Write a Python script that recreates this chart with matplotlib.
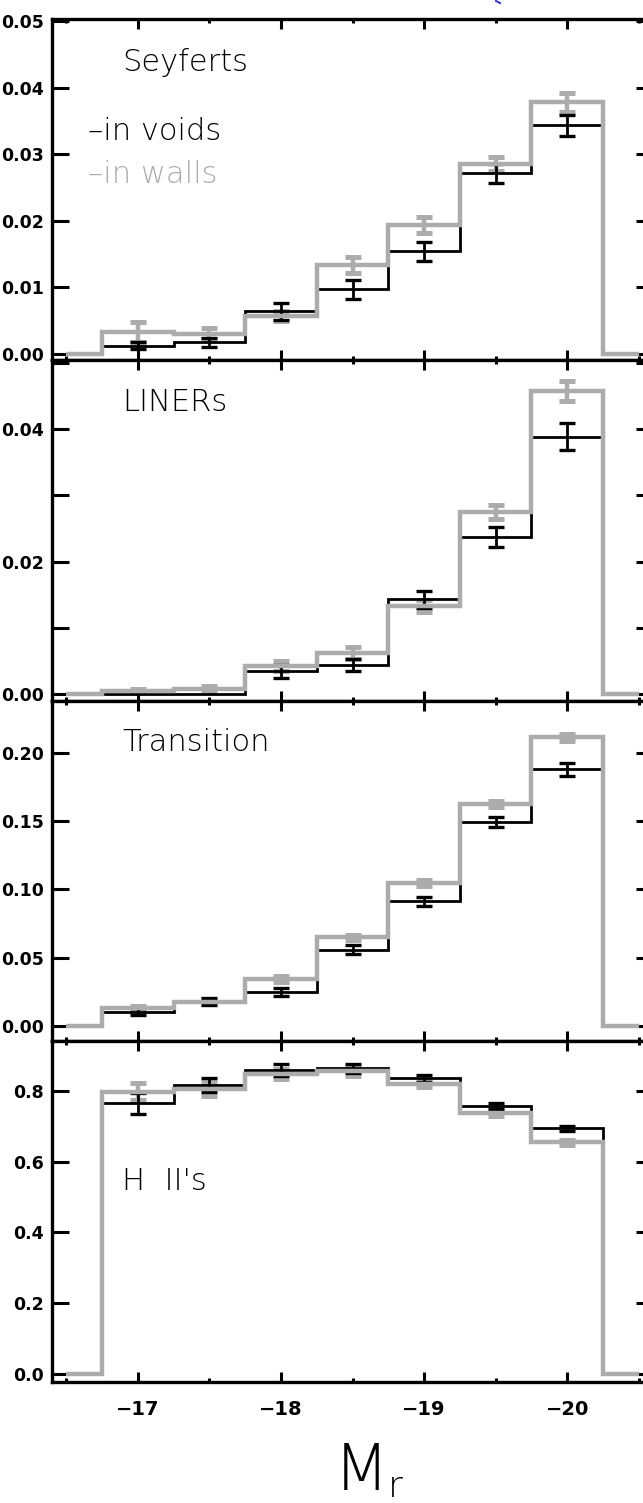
import numpy as np
import matplotlib.pyplot as plt
from matplotlib.ticker import MultipleLocator, FuncFormatter
from matplotlib.lines import Line2D

# bin centres in M_r (bin width 0.5)
mags = np.array([-17.0, -17.5, -18.0, -18.5, -19.0, -19.5, -20.0])

# Seyferts
sey_voids = [0.0012, 0.0017, 0.0064, 0.0097, 0.0154, 0.0271, 0.0343]
sey_voids_err = [0.0005, 0.0007, 0.0013, 0.0014, 0.0014, 0.0014, 0.0016]
sey_walls = [0.0032, 0.0030, 0.0057, 0.0134, 0.0194, 0.0285, 0.0378]
sey_walls_err = [0.0015, 0.0008, 0.0008, 0.0012, 0.0012, 0.0011, 0.0014]

# LINERs
lin_voids = [0.0, 0.0, 0.0034, 0.0044, 0.0143, 0.0237, 0.0389]
lin_voids_err = [0.0, 0.0, 0.0010, 0.0009, 0.0013, 0.0015, 0.0020]
lin_walls = [0.0005, 0.0008, 0.0042, 0.0062, 0.0133, 0.0275, 0.0458]
lin_walls_err = [0.0002, 0.0004, 0.0008, 0.0009, 0.0009, 0.0010, 0.0015]

# Transition
tra_voids = [0.0105, 0.0178, 0.0249, 0.0560, 0.0912, 0.1491, 0.1878]
tra_voids_err = [0.0025, 0.0025, 0.0028, 0.0030, 0.0033, 0.0037, 0.0047]
tra_walls = [0.0130, 0.0180, 0.0345, 0.0650, 0.1044, 0.1626, 0.2110]
tra_walls_err = [0.0015, 0.0015, 0.0020, 0.0020, 0.0022, 0.0022, 0.0025]

# H II's
hii_voids = [0.765, 0.817, 0.858, 0.864, 0.836, 0.758, 0.694]
hii_voids_err = [0.030, 0.020, 0.017, 0.013, 0.010, 0.008, 0.007]
hii_walls = [0.798, 0.806, 0.847, 0.855, 0.820, 0.736, 0.655]
hii_walls_err = [0.023, 0.020, 0.015, 0.012, 0.010, 0.008, 0.007]

panels = [
    ('Seyferts', sey_voids, sey_voids_err, sey_walls, sey_walls_err),
    ('LINERs', lin_voids, lin_voids_err, lin_walls, lin_walls_err),
    ('Transition', tra_voids, tra_voids_err, tra_walls, tra_walls_err),
    ("H  II's", hii_voids, hii_voids_err, hii_walls, hii_walls_err),
]
ylims = [(-0.0009, 0.0503), (-0.001, 0.0505), (-0.011, 0.238), (-0.0225, 0.94)]
ysteps = [0.01, 0.01, 0.05, 0.2]
label_every = [1, 2, 1, 1]
label_y = [0.871, 0.876, 0.878, 0.587]

GRAY = '#acacac'
LABEL_FONT = dict(family='DejaVu Sans', weight='light', fontsize=22)
YTICK_FONT = dict(family='DejaVu Sans', weight='bold', size=12.5)
XTICK_FONT = dict(family='DejaVu Sans', weight='bold', size=14)

# histogram edges with an empty bin on each side
half = 0.25
edges = np.concatenate(([mags[0] + 2 * half, mags[0] + half], mags - half, [mags[-1] - 2 * half]))


def padded(v):
    return np.concatenate(([0.0], v, [0.0]))


def fmt_factory(step, every, ndec):
    def f(val, pos):
        k = int(round(val / step))
        if k % every != 0:
            return ''
        return f'{val:.{ndec}f}'
    return f


fig = plt.figure(figsize=(6.43, 15.03), dpi=100)
W, H = 643.0, 1503.0
left_px, right_px = 52.0, 653.0
top_px, bot_px = 19.0, 1382.0
ph = (bot_px - top_px) / 4

axes = []
for i, (name, v, ve, w, we) in enumerate(panels):
    y0 = 1 - (top_px + (i + 1) * ph) / H
    ax = fig.add_axes([left_px / W, y0, (right_px - left_px) / W, ph / H])
    axes.append(ax)

    v = np.array(v); ve = np.array(ve); w = np.array(w); we = np.array(we)

    mw = we > 0
    ax.errorbar(mags[mw], w[mw], yerr=we[mw], fmt='none', ecolor=GRAY,
                elinewidth=3.2, capsize=5.5, capthick=3.6, zorder=2)
    ax.stairs(padded(v)[::-1], edges[::-1], color='black', lw=2.0, zorder=3)
    mv = ve > 0
    ax.errorbar(mags[mv], v[mv], yerr=ve[mv], fmt='none', ecolor='black',
                elinewidth=2.0, capsize=5.5, capthick=2.4, zorder=3)
    ax.stairs(padded(w)[::-1], edges[::-1], color=GRAY, lw=3.2, zorder=4)

    ax.set_xlim(-16.4, -20.6)
    ax.set_ylim(*ylims[i])
    ax.xaxis.set_major_locator(MultipleLocator(1.0))
    ax.xaxis.set_minor_locator(MultipleLocator(0.5))
    ax.yaxis.set_major_locator(MultipleLocator(ysteps[i]))
    ndec = 1 if ysteps[i] >= 0.1 else 2
    ax.yaxis.set_major_formatter(FuncFormatter(fmt_factory(ysteps[i], label_every[i], ndec)))

    ax.tick_params(axis='both', which='major', direction='in', top=True, right=True,
                   width=2.2, color='black')
    ax.tick_params(axis='y', which='major', length=12, pad=6)
    ax.tick_params(axis='x', which='major', length=7, pad=13)
    ax.tick_params(axis='x', which='minor', direction='in', top=True, length=3, width=2.2)
    for sp in ax.spines.values():
        sp.set_linewidth(2.4)
    for lab in ax.get_yticklabels():
        lab.set_fontproperties(YTICK_FONT)
    if i < 3:
        ax.tick_params(axis='x', labelbottom=False)
    else:
        for lab in ax.get_xticklabels():
            lab.set_fontproperties(XTICK_FONT)

    ax.text(0.1165, label_y[i], name, transform=ax.transAxes, va='center', ha='left', **LABEL_FONT)

# legend in the top panel
axes[0].text(0.06, 0.671, '–in voids', transform=axes[0].transAxes, va='center', ha='left',
             color='black', **LABEL_FONT)
axes[0].text(0.06, 0.545, '–in walls', transform=axes[0].transAxes, va='center', ha='left',
             color=GRAY, **LABEL_FONT)

# axis title M_r
fig.text(334 / W, 1 - 1490 / H, 'M', ha='left', va='baseline',
         family='DejaVu Sans', weight='light', fontsize=46)
fig.text(388 / W, 1 - 1497 / H, 'r', ha='left', va='baseline',
         family='DejaVu Sans', weight='light', fontsize=26)

# cut-off blue fragment at the top edge
fig.add_artist(Line2D([496 / W, 500 / W], [1 - 1 / H, 1 - 3 / H], color='#3a3ad0', lw=1.5))

fig.savefig('out.png', dpi=100)
